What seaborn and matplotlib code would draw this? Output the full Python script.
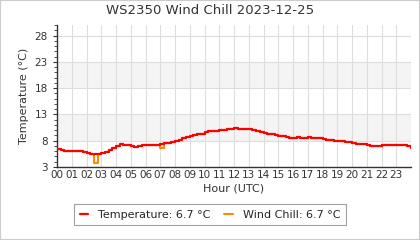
import numpy as np
import pandas as pd
import matplotlib
matplotlib.use("Agg")
import matplotlib.pyplot as plt
from matplotlib.patches import Rectangle
from matplotlib.ticker import MultipleLocator
import seaborn as sns

title = "WS2350 Wind Chill 2023-12-25"
hours = [i * 0.25 for i in range(97)]
temperature = [
    6.4, 6.3, 6.1, 6.0, 6.0, 6.0, 6.0, 5.8, 5.6, 5.5, 5.5, 5.5,
    5.7, 5.9, 6.2, 6.6, 7.0, 7.3, 7.2, 7.1, 6.9, 6.8, 6.9, 7.1,
    7.1, 7.1, 7.1, 7.2, 7.4, 7.6, 7.6, 7.7, 7.9, 8.2, 8.5, 8.7,
    8.9, 9.0, 9.2, 9.3, 9.6, 9.8, 9.9, 9.9, 10.0, 10.0, 10.2, 10.3,
    10.35, 10.3, 10.3, 10.3, 10.2, 10.0, 9.8, 9.7, 9.5, 9.3, 9.2, 9.1,
    8.9, 8.8, 8.7, 8.6, 8.6, 8.7, 8.6, 8.6, 8.7, 8.6, 8.6, 8.55,
    8.4, 8.2, 8.1, 8.0, 8.0, 7.9, 7.8, 7.7, 7.5, 7.4, 7.3, 7.3,
    7.2, 7.0, 7.0, 7.0, 7.1, 7.2, 7.2, 7.2, 7.2, 7.2, 7.1, 6.9, 6.7,
]
wind_chill = list(temperature)
wind_chill[10] = 3.8
wind_chill[28] = 6.6
xtick_labels = [f"{h:02d}" for h in range(24)]
yticks = [3, 8, 13, 18, 23, 28]

df = pd.DataFrame({"hour": hours, "temp": temperature, "wc": wind_chill})

sns.set_style("ticks")
plt.rcParams["font.family"] = ["DejaVu Sans"]

fig = plt.figure(figsize=(4.2, 2.4), dpi=100)
ax = fig.add_axes([57 / 420, 1 - 167 / 240, (411 - 57) / 420, (167 - 25) / 240])

# alternating bands
for lo in [8, 18]:
    ax.axhspan(lo, lo + 5, color="#f4f4f4", zorder=0, lw=0)
for y in yticks:
    ax.axhline(y, color="#dddddd", lw=0.8, zorder=0.5)
for h in range(25):
    ax.axvline(h, color="#dddddd", lw=0.8, zorder=0.5)

sns.lineplot(data=df, x="hour", y="wc", ax=ax, color="#ff8c00", lw=1.5,
             drawstyle="steps-post", label=f"Wind Chill: {wind_chill[-1]:.1f} °C", zorder=2)
sns.lineplot(data=df, x="hour", y="temp", ax=ax, color="#ff0000", lw=1.6,
             drawstyle="steps-post", label=f"Temperature: {temperature[-1]:.1f} °C", zorder=3)

ax.set_xlim(0, 24)
ax.set_ylim(3, 30)
ax.set_xticks(range(24))
ax.set_xticklabels(xtick_labels)
ax.set_yticks(yticks)
ax.yaxis.set_minor_locator(MultipleLocator(1))
ax.tick_params(axis="both", labelsize=7.5, colors="#333333", length=3, width=0.8)
ax.tick_params(axis="x", length=0, pad=2)
ax.tick_params(axis="y", which="minor", length=2, width=0.6, color="#333333")
for s in ["top", "right"]:
    ax.spines[s].set_visible(False)
for s in ["left", "bottom"]:
    ax.spines[s].set_color("#333333")
    ax.spines[s].set_linewidth(1)

ax.set_xlabel("Hour (UTC)", fontsize=8, color="#333333", labelpad=3)
ax.set_ylabel("Temperature (°C)", fontsize=8, color="#333333", labelpad=4)

handles, labels = ax.get_legend_handles_labels()
order = [1, 0]
leg = fig.legend([handles[i] for i in order], [labels[i] for i in order],
                 loc="center", bbox_to_anchor=(0.5, 1 - 214.5 / 240), ncol=2,
                 fontsize=8, frameon=True, fancybox=False, handlelength=0.8,
                 handletextpad=0.9, columnspacing=1.2, borderpad=0.5, edgecolor="#888888")
leg.get_frame().set_linewidth(0.8)
ax.get_legend().remove()

fig.text(0.5, 1 - 11 / 240, title, ha="center", va="center", fontsize=9.5, color="#333333")
fig.patches.append(Rectangle((0, 0), 1, 1, transform=fig.transFigure, fill=False,
                             edgecolor="#cccccc", lw=1.5))

fig.savefig("out.png", dpi=100, facecolor="white")
